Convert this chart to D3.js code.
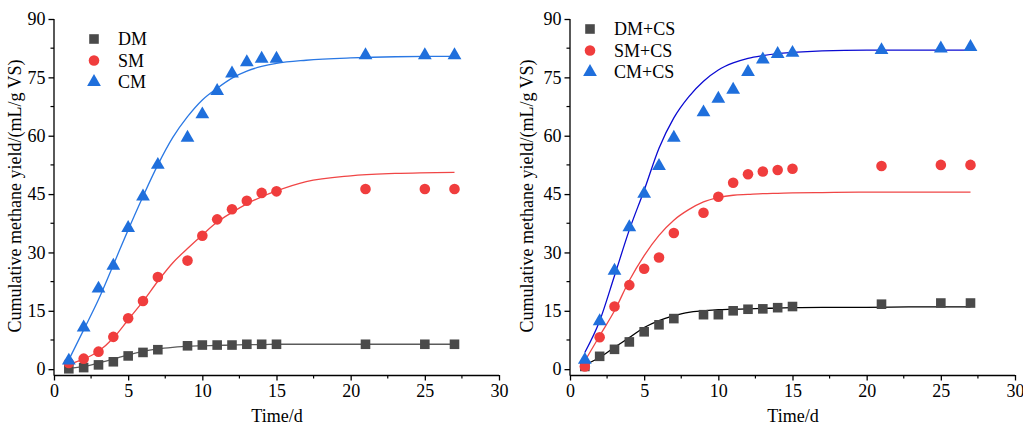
<!DOCTYPE html>
<html>
<head>
<meta charset="utf-8">
<script src="https://cdn.jsdelivr.net/npm/d3@7"></script>
<style>
  body { margin: 0; background: #fff; }
  svg text { font-family: "Liberation Serif", "Times New Roman", serif; fill: #000; }
  .axis path, .axis line { stroke: #000; stroke-width: 1.3; }
  .axis text { font-size: 18px; }
</style>
</head>
<body>
<svg id="chart" width="1023" height="428"></svg>
<script>
// measured days
const days = [1, 2, 3, 4, 5, 6, 7, 9, 10, 11, 12, 13, 14, 15, 21, 25, 27];
// days where fitted curves were read
const fitDays = [1, 2, 3, 4, 5, 6, 7, 8, 9, 10, 11, 12, 13, 14, 15, 17, 20, 23, 27];

// left panel: mono-digestion
const dm = [0.1, 0.4, 1.1, 1.9, 3.4, 4.3, 5.0, 6.0, 6.2, 6.2, 6.2, 6.4, 6.4, 6.4, 6.4, 6.4, 6.4];
const sm = [1.6, 2.7, 4.5, 8.3, 13.1, 17.5, 23.7, 27.9, 34.3, 38.5, 41.1, 43.3, 45.3, 45.7, 46.3, 46.3, 46.3];
const cm = [2.2, 10.7, 20.7, 26.6, 36.3, 44.4, 52.5, 59.5, 65.5, 71.5, 76.0, 78.9, 79.8, 79.8, 80.7, 80.7, 80.7];
const dmFit = [0.2, 0.7, 1.6, 2.6, 3.7, 4.6, 5.2, 5.6, 5.9, 6.0, 6.1, 6.2, 6.3, 6.3, 6.4, 6.4, 6.4, 6.4, 6.4];
const smFit = [1.3, 2.6, 4.6, 8.0, 12.7, 17.4, 22.6, 27.3, 31.0, 34.5, 37.8, 40.3, 42.5, 44.3, 45.8, 48.2, 49.7, 50.3, 50.6];
const cmFit = [2.4, 10.1, 17.9, 26.8, 35.8, 44.4, 52.5, 59.5, 64.9, 69.2, 72.2, 74.8, 76.6, 77.8, 78.6, 79.4, 80.0, 80.3, 80.4];

// right panel: co-digestion with CS
const dmcs = [0.7, 3.3, 5.1, 7.0, 9.6, 11.4, 13.0, 14.0, 14.0, 15.0, 15.4, 15.5, 15.8, 16.1, 16.7, 17.0, 17.0];
const smcs = [0.7, 8.2, 16.1, 21.6, 25.8, 28.7, 35.0, 40.2, 44.3, 47.9, 50.1, 50.8, 51.2, 51.5, 52.2, 52.5, 52.5];
const cmcs = [2.4, 12.3, 25.3, 36.5, 45.1, 52.2, 59.5, 66.0, 69.5, 71.8, 76.4, 79.6, 81.0, 81.3, 82.0, 82.4, 82.8];
const dmcsFit = [1.1, 3.0, 5.6, 8.1, 10.7, 12.5, 13.7, 14.6, 15.0, 15.3, 15.4, 15.5, 15.6, 15.7, 15.8, 15.9, 15.9, 16.0, 16.0];
const smcsFit = [2.1, 8.6, 15.0, 22.8, 29.2, 34.4, 38.3, 41.0, 43.0, 44.1, 44.7, 44.9, 45.1, 45.2, 45.3, 45.4, 45.5, 45.5, 45.5];
const cmcsFit = [4.3, 12.4, 24.0, 35.8, 46.0, 56.8, 64.6, 70.0, 74.0, 76.9, 78.7, 79.9, 80.6, 81.1, 81.4, 81.8, 82.0, 82.0, 82.0];

const xTicks = [0, 5, 10, 15, 20, 25, 30];
const yTicks = [0, 15, 30, 45, 60, 75, 90];

const svg = d3.select('#chart');

const symbols = {
  square: d3.symbol().type(d3.symbolSquare).size(92),
  circle: d3.symbol().type(d3.symbolCircle).size(88),
  triangle: d3.symbol().type(d3.symbolTriangle).size(82)
};

function drawPanel(cfg) {
  const x = d3.scaleLinear().domain([0, 30]).range([cfg.left, cfg.left + 445]);
  const y = d3.scaleLinear().domain([-1.5, 90]).range([375, 19]);

  // minor ticks
  const xMinor = d3.range(2.5, 30, 5);
  const yMinor = d3.range(7.5, 90, 15);
  const g = svg.append('g');

  g.selectAll('.xminor').data(xMinor).join('line')
    .attr('x1', d => x(d)).attr('x2', d => x(d))
    .attr('y1', 375).attr('y2', 378.5)
    .attr('stroke', '#000').attr('stroke-width', 1.2);
  g.selectAll('.yminor').data(yMinor).join('line')
    .attr('x1', cfg.left).attr('x2', cfg.left - 3.5)
    .attr('y1', d => y(d)).attr('y2', d => y(d))
    .attr('stroke', '#000').attr('stroke-width', 1.2);

  g.append('g')
    .attr('class', 'axis')
    .attr('transform', 'translate(0,375)')
    .call(d3.axisBottom(x).tickValues(xTicks).tickSize(5.5).tickSizeOuter(0).tickPadding(4));

  g.append('g')
    .attr('class', 'axis')
    .attr('transform', `translate(${cfg.left},0)`)
    .call(d3.axisLeft(y).tickValues(yTicks).tickSize(5.5).tickSizeOuter(0).tickPadding(3));

  g.selectAll('.axis .domain').attr('d', function () {
    return d3.select(this.parentNode).attr('transform').includes(',375')
      ? `M${cfg.left},0.5H${cfg.left + 445}`
      : `M-0.5,375H0V19`;
  });

  g.append('text')
    .attr('x', cfg.left + 223).attr('y', 422)
    .attr('text-anchor', 'middle')
    .style('font-size', '18px')
    .text('Time/d');

  g.append('text')
    .attr('transform', `translate(${cfg.titleX},196) rotate(-90)`)
    .attr('text-anchor', 'middle')
    .style('font-size', '18px')
    .text('Cumulative methane yield/(mL/g VS)');

  const line = d3.line()
    .x((d, i) => x(fitDays[i]))
    .y(d => y(d))
    .curve(d3.curveMonotoneX);

  cfg.series.forEach(s => {
    g.append('path')
      .datum(s.fit)
      .attr('d', line)
      .attr('fill', 'none')
      .attr('stroke', s.lineColor)
      .attr('stroke-width', 1.3);
  });

  cfg.series.forEach(s => {
    g.selectAll(null).data(s.values).join('path')
      .attr('d', symbols[s.shape])
      .attr('transform', (d, i) => `translate(${x(days[i])},${y(d)})`)
      .attr('fill', s.color);
  });

  // legend
  cfg.series.forEach((s, i) => {
    const ly = cfg.legendY + i * 21.5;
    g.append('path')
      .attr('d', symbols[s.shape])
      .attr('transform', `translate(${cfg.legendX},${ly})`)
      .attr('fill', s.color);
    g.append('text')
      .attr('x', cfg.legendX + 24).attr('y', ly + 6)
      .style('font-size', '18px')
      .text(s.name);
  });
}

drawPanel({
  left: 54,
  titleX: 21,
  legendX: 94,
  legendY: 39,
  series: [
    { name: 'DM', values: dm, fit: dmFit, shape: 'square', color: '#4a4a4a', lineColor: '#5a5a5a' },
    { name: 'SM', values: sm, fit: smFit, shape: 'circle', color: '#f03d3d', lineColor: '#f04646' },
    { name: 'CM', values: cm, fit: cmFit, shape: 'triangle', color: '#1f6fdc', lineColor: '#2a78e4' }
  ]
});

drawPanel({
  left: 570,
  titleX: 533,
  legendX: 590,
  legendY: 29,
  series: [
    { name: 'DM+CS', values: dmcs, fit: dmcsFit, shape: 'square', color: '#4a4a4a', lineColor: '#000000' },
    { name: 'SM+CS', values: smcs, fit: smcsFit, shape: 'circle', color: '#f03d3d', lineColor: '#f04646' },
    { name: 'CM+CS', values: cmcs, fit: cmcsFit, shape: 'triangle', color: '#1f6fdc', lineColor: '#0a0ad2' }
  ]
});
</script>
</body>
</html>
